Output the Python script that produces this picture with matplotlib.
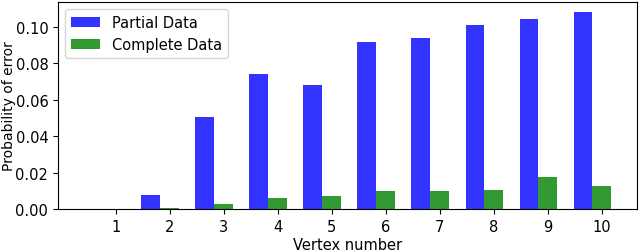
import matplotlib
matplotlib.use("Agg")
import matplotlib.pyplot as plt
import numpy as np

vertices = [1, 2, 3, 4, 5, 6, 7, 8, 9, 10]
partial = [0.0, 0.0075, 0.0503, 0.0741, 0.0682, 0.0918, 0.0938, 0.1008, 0.1040, 0.1080]
complete = [0.0, 0.0004, 0.0027, 0.0060, 0.0071, 0.0101, 0.0097, 0.0106, 0.0174, 0.0125]

fig = plt.figure(figsize=(6.4, 2.53), dpi=100)
ax = fig.add_axes([0.0906, 0.17, 0.9047, 0.818])

x = np.array(vertices)
width = 0.35
ax.bar(x - width, partial, width, color='b', alpha=0.8, label="Partial Data")
ax.bar(x, complete, width, color='g', alpha=0.8, label="Complete Data")

ax.set_xticks(x)
ax.set_xticklabels([str(v) for v in vertices])
ax.set_xlim(-0.07, 10.65)
ax.set_ylim(0, 0.1135)
ax.set_yticks(np.arange(0, 0.11, 0.02))
ax.set_xlabel("Vertex number", fontsize=10.5, labelpad=2.5)
ax.set_ylabel("Probability of error", fontsize=10)
# keep the y label inside the figure, like the reference
ax.yaxis.set_label_coords(-0.072, 0.5)
ax.tick_params(labelsize=10.5)
ax.legend(loc="upper left", fontsize=10.5)

fig.savefig("out.png", dpi=100)
